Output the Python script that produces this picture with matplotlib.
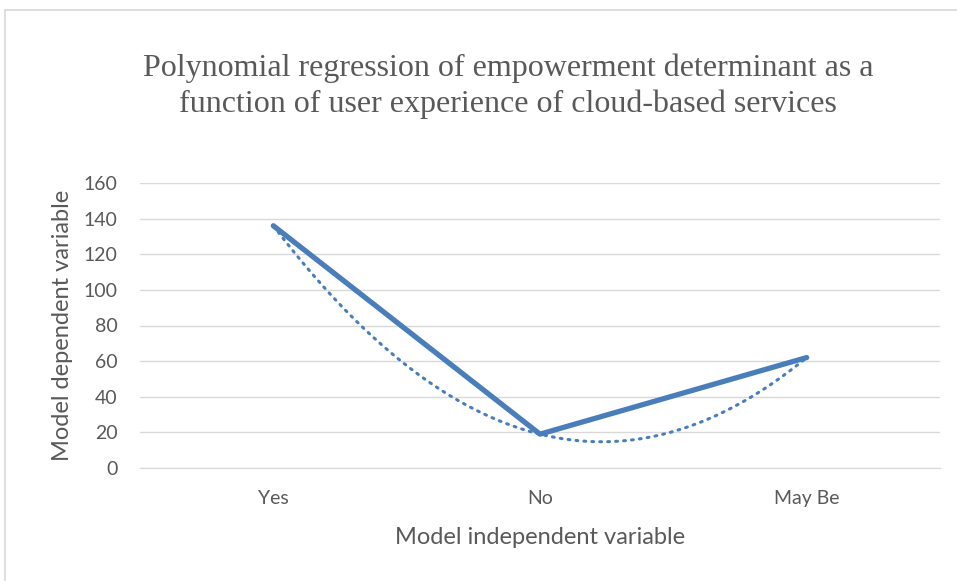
import numpy as np
import matplotlib.pyplot as plt
from matplotlib.patches import Rectangle

categories = ["Yes", "No", "May Be"]
values = [136, 19, 62]
title = "Polynomial regression of empowerment determinant as a\nfunction of user experience of cloud-based services"

blue = "#4a7ebb"
gray_text = "#595959"
grid_gray = "#d9d9d9"

fig = plt.figure(figsize=(9.57, 5.81), dpi=100)
ax = fig.add_axes([140 / 957, 1 - 468 / 581, 800 / 957, 285 / 581])

x = np.arange(len(categories))
ax.plot(x, values, color=blue, lw=3.8, solid_capstyle="round", solid_joinstyle="round", zorder=3)

# 2nd order polynomial trendline
coef = np.polyfit(x, values, 2)
xs = np.linspace(x[0], x[-1], 200)
ax.plot(xs, np.polyval(coef, xs), color=blue, lw=2.2, linestyle=(0, (0.6, 2.0)),
        dash_capstyle="round", zorder=2)

ax.set_xlim(-0.5, len(categories) - 0.5)
ax.set_ylim(0, 160)
ax.set_yticks(range(0, 161, 20))
ax.set_xticks(x)
ax.set_xticklabels(categories)
ax.grid(axis="y", color=grid_gray, lw=1)
ax.set_axisbelow(True)
for s in ["top", "right", "left"]:
    ax.spines[s].set_visible(False)
ax.spines["bottom"].set_color(grid_gray)
ax.tick_params(length=0, labelsize=14, labelcolor=gray_text)
for lab in ax.get_xticklabels() + ax.get_yticklabels():
    lab.set_family("Lato")
ax.tick_params(axis="y", pad=16)
ax.tick_params(axis="x", pad=16)

ax.set_xlabel("Model independent variable", fontsize=17, color=gray_text, family="Lato", labelpad=14)
ax.set_ylabel("Model dependent variable", fontsize=17, color=gray_text, family="Lato", labelpad=8)

fig.text(508 / 957, 1 - 86 / 581, title, ha="center", va="center", fontsize=23,
         family="Liberation Serif", color=gray_text, linespacing=1.3)

fig.patches.append(Rectangle((5 / 957, -0.1), 1.2, 1 - 10 / 581 + 0.1, transform=fig.transFigure,
                             fill=False, edgecolor=grid_gray, lw=1.2))

fig.savefig("out.png", dpi=100)
